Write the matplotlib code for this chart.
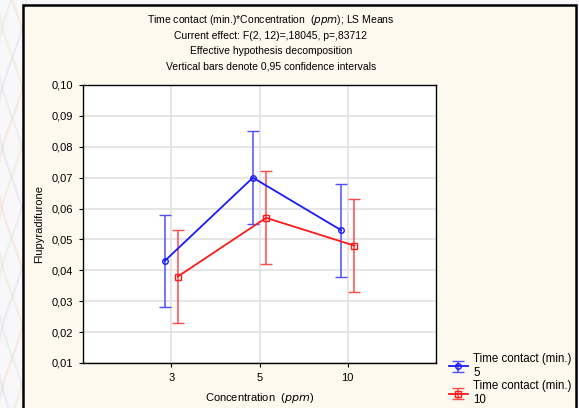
import numpy as np
import matplotlib
matplotlib.use("Agg")
import matplotlib.pyplot as plt
from matplotlib.patches import Rectangle

plt.rcParams["font.family"] = ["Liberation Sans", "DejaVu Sans"]

# LS means and 0.95 confidence limits per concentration
concentrations = ["3", "5", "10"]
mean_5 = [0.043, 0.070, 0.053]
lo_5 = [0.028, 0.055, 0.038]
hi_5 = [0.058, 0.085, 0.068]
mean_10 = [0.038, 0.057, 0.048]
lo_10 = [0.023, 0.042, 0.033]
hi_10 = [0.053, 0.072, 0.063]
y_ticks = [0.01, 0.02, 0.03, 0.04, 0.05, 0.06, 0.07, 0.08, 0.09, 0.10]

W, H = 579, 408
fig = plt.figure(figsize=(W / 100, H / 100), dpi=100, facecolor="#f8f7f9")

# faint decorative curves in the page margin
bg = fig.add_axes([0, 0, 1, 1], zorder=-5)
bg.set_xlim(0, W); bg.set_ylim(H, 0); bg.axis("off")
t = np.linspace(0, H, 300)
for k, col in enumerate(["#f2d9c6", "#d9dbea", "#dde8dc", "#f0e2cc"]):
    bg.plot(12 + 14 * np.sin(t / 38 + k * 1.6), t, color=col, lw=1.6, alpha=0.45)

# cream panel with black frame
fig.patches.append(Rectangle((23 / W, -0.05), (576 - 23) / W, 1.05 - 5 / H,
                             transform=fig.transFigure, facecolor="#fef9ee",
                             edgecolor="black", lw=1.8, zorder=-1))

ax = fig.add_axes([83 / W, 1 - 363 / H, (436 - 83) / W, (363 - 85) / H])
ax.set_facecolor("white")

x = np.arange(1, len(concentrations) + 1)
off = 0.075
err_5 = [np.subtract(mean_5, lo_5), np.subtract(hi_5, mean_5)]
err_10 = [np.subtract(mean_10, lo_10), np.subtract(hi_10, mean_10)]

eb5 = ax.errorbar(x - off, mean_5, yerr=err_5, color="#1a1aff", lw=1.3,
                  marker="o", ms=4, mfc="none", mew=1.0, capsize=4,
                  elinewidth=1.1, capthick=1.1, ecolor="#4f4fff",
                  label="Time contact (min.)\n5", zorder=3)
eb10 = ax.errorbar(x + off, mean_10, yerr=err_10, color="#ff1a1a", lw=1.3,
                   marker="s", ms=4, mfc="none", mew=1.0, capsize=4,
                   elinewidth=1.1, capthick=1.1, ecolor="#ff4a4a",
                   label="Time contact (min.)\n10", zorder=3)

ax.set_xlim(0, 4)
ax.set_ylim(0.01, 0.10)
ax.set_xticks(x)
ax.set_xticklabels(concentrations)
ax.set_yticks(y_ticks)
ax.set_yticklabels([f"{v:.2f}".replace(".", ",") for v in y_ticks])
ax.tick_params(labelsize=8, length=3, width=0.8, color="black", pad=4)
ax.grid(True, color="#e2e2e2", lw=1.2)
ax.set_axisbelow(True)
for s in ax.spines.values():
    s.set_linewidth(1.0)

ax.set_ylabel("Flupyradifurone", fontsize=8)
ax.yaxis.set_label_coords(-0.11, 0.5)
ax.set_xlabel(r"Concentration  ($\it{ppm}$)", fontsize=8, labelpad=6)

title = ["Time contact (min.)*Concentration  ($\\it{ppm}$); LS Means",
         "Current effect: F(2, 12)=,18045, p=,83712",
         "Effective hypothesis decomposition",
         "Vertical bars denote 0,95 confidence intervals"]
for i, line in enumerate(title):
    fig.text(271 / W, 1 - (20 + 15.6 * i) / H, line, ha="center", va="center",
             fontsize=7.5)

fig.legend(handles=[eb5, eb10], loc="upper left",
           bbox_to_anchor=(441 / W, 1 - 345 / H), frameon=False, fontsize=8.3,
           handlelength=1.6, handletextpad=0.5, labelspacing=0.12,
           borderpad=0.2)

fig.savefig("out.png", dpi=100, facecolor=fig.get_facecolor())
